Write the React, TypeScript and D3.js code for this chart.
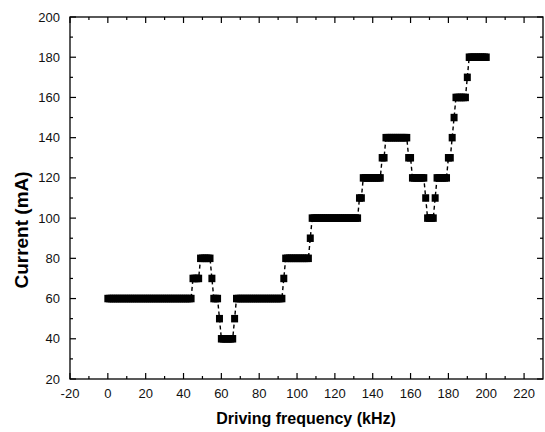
import React from "react";
import * as d3 from "d3";

const WIDTH = 545;
const HEIGHT = 432;

// Driving frequency sampled every 1 kHz from 0 to 200 kHz
const FREQ_START = 0;
const FREQ_STEP = 1;

// Current (mA) read at each frequency
const currents: number[] = [
  60, 60, 60, 60, 60, 60, 60, 60, 60, 60, // 0-9
  60, 60, 60, 60, 60, 60, 60, 60, 60, 60, // 10-19
  60, 60, 60, 60, 60, 60, 60, 60, 60, 60, // 20-29
  60, 60, 60, 60, 60, 60, 60, 60, 60, 60, // 30-39
  60, 60, 60, 60, 60, 70, 70, 70, 70, 80, // 40-49
  80, 80, 80, 80, 80, 70, 60, 60, 60, 50, // 50-59
  40, 40, 40, 40, 40, 40, 40, 50, 60, 60, // 60-69
  60, 60, 60, 60, 60, 60, 60, 60, 60, 60, // 70-79
  60, 60, 60, 60, 60, 60, 60, 60, 60, 60, // 80-89
  60, 60, 60, 70, 80, 80, 80, 80, 80, 80, // 90-99
  80, 80, 80, 80, 80, 80, 80, 90, 100, 100, // 100-109
  100, 100, 100, 100, 100, 100, 100, 100, 100, 100, // 110-119
  100, 100, 100, 100, 100, 100, 100, 100, 100, 100, // 120-129
  100, 100, 100, 110, 110, 120, 120, 120, 120, 120, // 130-139
  120, 120, 120, 120, 120, 130, 130, 140, 140, 140, // 140-149
  140, 140, 140, 140, 140, 140, 140, 140, 140, 130, // 150-159
  130, 120, 120, 120, 120, 120, 120, 120, 110, 100, // 160-169
  100, 100, 100, 110, 120, 120, 120, 120, 120, 120, // 170-179
  130, 130, 140, 150, 160, 160, 160, 160, 160, 160, // 180-189
  170, 180, 180, 180, 180, 180, 180, 180, 180, 180, // 190-199
  180, // 200
];

const xMajorTicks = [-20, 0, 20, 40, 60, 80, 100, 120, 140, 160, 180, 200, 220];
const xMinorTicks = [-10, 10, 30, 50, 70, 90, 110, 130, 150, 170, 190, 210];
const yMajorTicks = [20, 40, 60, 80, 100, 120, 140, 160, 180, 200];
const yMinorTicks = [30, 50, 70, 90, 110, 130, 150, 170, 190];

const xTitle = "Driving frequency (kHz)";
const yTitle = "Current (mA)";

export default function App() {
  const x = d3.scaleLinear().domain([-20, 230]).range([70, 543]);
  const y = d3.scaleLinear().domain([20, 200]).range([379, 17]);

  const points = currents.map((c, i) => ({ f: FREQ_START + i * FREQ_STEP, c }));
  const line = d3
    .line<{ f: number; c: number }>()
    .x((d) => x(d.f))
    .y((d) => y(d.c));

  const [x0, x1] = x.range();
  const [yb, yt] = y.range();
  const MAJ = 6;
  const MIN = 3;
  const mw = 7;
  const mh = 7.5;
  const font = "'Liberation Sans', Arial, Helvetica, sans-serif";

  return (
    <svg
      width={WIDTH}
      height={HEIGHT}
      style={{ position: "absolute", left: 0, top: 0, background: "#fff" }}
    >
      <rect x={0} y={0} width={WIDTH} height={HEIGHT} fill="#fff" />
      {/* frame */}
      <rect
        x={x0}
        y={yt}
        width={x1 - x0}
        height={yb - yt}
        fill="none"
        stroke="#000"
        strokeWidth={1.3}
      />
      {/* ticks on all four sides, pointing inward */}
      <g stroke="#000" strokeWidth={1.2}>
        {xMajorTicks.map((t) => (
          <g key={"xM" + t}>
            <line x1={x(t)} x2={x(t)} y1={yb} y2={yb - MAJ} />
            <line x1={x(t)} x2={x(t)} y1={yt} y2={yt + MAJ} />
          </g>
        ))}
        {xMinorTicks.map((t) => (
          <g key={"xm" + t}>
            <line x1={x(t)} x2={x(t)} y1={yb} y2={yb - MIN} />
            <line x1={x(t)} x2={x(t)} y1={yt} y2={yt + MIN} />
          </g>
        ))}
        {yMajorTicks.map((t) => (
          <g key={"yM" + t}>
            <line x1={x0} x2={x0 + MAJ} y1={y(t)} y2={y(t)} />
            <line x1={x1} x2={x1 - MAJ} y1={y(t)} y2={y(t)} />
          </g>
        ))}
        {yMinorTicks.map((t) => (
          <g key={"ym" + t}>
            <line x1={x0} x2={x0 + MIN} y1={y(t)} y2={y(t)} />
            <line x1={x1} x2={x1 - MIN} y1={y(t)} y2={y(t)} />
          </g>
        ))}
      </g>
      {/* tick labels */}
      <g fontFamily={font} fontSize={13} fill="#111">
        {xMajorTicks.map((t) => (
          <text key={"xl" + t} x={x(t)} y={398} textAnchor="middle">
            {t}
          </text>
        ))}
        {yMajorTicks.map((t) => (
          <text
            key={"yl" + t}
            x={60}
            y={y(t)}
            textAnchor="end"
            dominantBaseline="central"
          >
            {t}
          </text>
        ))}
      </g>
      {/* axis titles */}
      <text
        x={306}
        y={424}
        textAnchor="middle"
        fontFamily={font}
        fontWeight="bold"
        fontSize={16}
        fill="#000"
      >
        {xTitle}
      </text>
      <text
        transform={`translate(28,230) rotate(-90)`}
        textAnchor="middle"
        fontFamily={font}
        fontWeight="bold"
        fontSize={19}
        fill="#000"
      >
        {yTitle}
      </text>
      {/* data */}
      <path
        d={line(points) || ""}
        fill="none"
        stroke="#000"
        strokeWidth={1.4}
        strokeDasharray="4,3"
      />
      <g fill="#000">
        {points.map((p) => (
          <rect
            key={p.f}
            x={x(p.f) - mw / 2}
            y={y(p.c) - mh / 2}
            width={mw}
            height={mh}
          />
        ))}
      </g>
    </svg>
  );
}
